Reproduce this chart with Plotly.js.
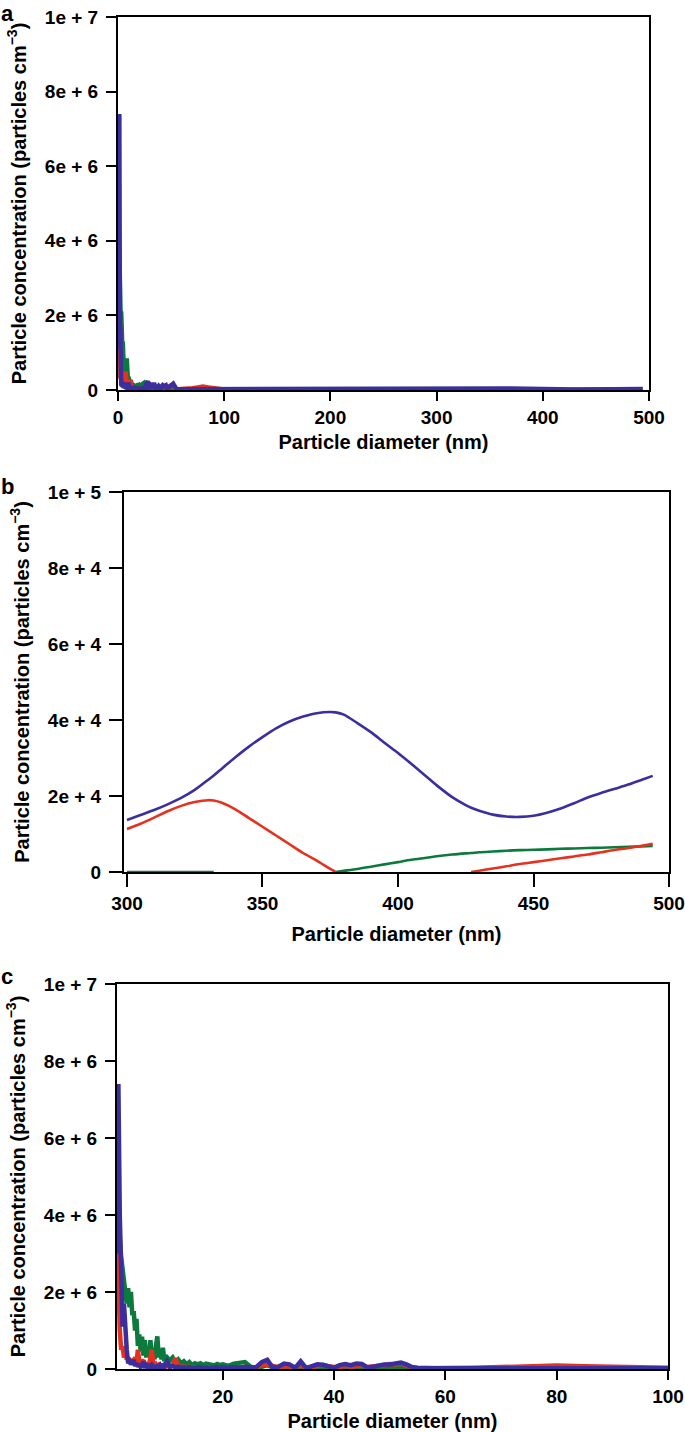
<!DOCTYPE html>
<html>
<head>
<meta charset="utf-8">
<script src="https://cdn.plot.ly/plotly-3.0.1.min.js"></script>
<style>html,body{margin:0;padding:0;background:#fff;}#chart{width:685px;height:1432px;}</style>
</head>
<body>
<div id="chart"></div>
<script>
// Particle diameter grid (nm)
const diameter = [
  1,1.25,1.5,1.75,2,2.25,2.5,2.75,3,3.25,3.5,3.75,4,4.25,4.5,4.75,5,5.25,5.5,5.75,6,6.25,6.5,6.75,7,7.25,7.5,7.75,8,8.25,8.5,8.75,9,9.25,9.5,9.75,10,
  10.5,11,11.5,12,12.5,13,13.5,14,14.5,15,15.5,16,16.5,17,17.5,18,18.5,19,19.5,20,
  21,22,23,24,25,26,27,28,29,30,31,32,33,34,35,36,37,38,39,40,41,42,43,44,45,46,47,48,49,50,51,52,53,54,55,56,57,58,59,60,
  65,70,75,80,85,90,95,100,110,120,130,140,150,160,170,180,190,200,210,220,230,240,250,260,270,280,290,300,
  305,310,315,320,325,330,332,335,340,345,350,355,360,365,370,375,377,380,385,390,395,400,405,410,415,420,425,427,430,435,440,445,450,455,460,465,470,475,480,485,490,494
];

// Green series (particles cm^-3)
const greenConc = [
  1.5e6,2.8e6,3.4e6,2.9e6,2.6e6,2.2e6,2.1e6,1.7e6,2.1e6,1.6e6,2.0e6,1.4e6,1.5e6,1.0e6,1.3e6,0.6e6,0.9e6,0.45e6,0.84e6,0.35e6,0.75e6,0.3e6,0.55e6,0.3e6,0.75e6,0.35e6,0.45e6,0.25e6,0.6e6,0.85e6,0.3e6,0.5e6,0.25e6,0.55e6,0.2e6,0.35e6,0.3e6,
  0.22e6,0.3e6,0.18e6,0.25e6,0.15e6,0.2e6,0.12e6,0.18e6,0.1e6,0.15e6,0.12e6,0.15e6,0.1e6,0.14e6,0.12e6,0.13e6,0.09e6,0.13e6,0.1e6,0.12e6,
  0.08e6,0.14e6,0.16e6,0.18e6,0.06e6,0.03e6,0.06e6,0.1e6,0.04e6,0.03e6,0.04e6,0.03e6,0.02e6,0.03e6,0.02e6,0.03e6,0.02e6,0.03e6,0.02e6,0.02e6,
  0.02e6,0.03e6,0.02e6,0.02e6,0.03e6,0.02e6,0.02e6,0.02e6,0.03e6,0.02e6,0.02e6,0.02e6,0.02e6,0.015e6,0.015e6,0.015e6,0.015e6,0.015e6,0.015e6,0.015e6,
  15000,15000,15000,12000,12000,12000,10000,10000,9000,8000,7000,6000,5000,4000,3500,3000,2500,2000,1500,1000,800,600,400,200,0,0,0,0,
  0,0,0,0,0,0,0,null,null,null,null,null,null,null,null,null,0,300,800,1400,2000,2600,3200,3700,4200,4600,4900,5000,5200,5400,5600,5750,5850,5950,6100,6200,6300,6400,6500,6600,6750,6850
];

// Red series (particles cm^-3)
const redConc = [
  3.8e6,1.6e6,1.0e6,0.5e6,0.6e6,0.3e6,0.4e6,0.25e6,0.3e6,0.2e6,0.25e6,0.15e6,0.2e6,0.3e6,0.15e6,0.5e6,0.2e6,0.15e6,0.25e6,0.1e6,0.15e6,0.08e6,0.12e6,0.1e6,0.3e6,0.5e6,0.15e6,0.08e6,0.12e6,0.06e6,0.1e6,0.05e6,0.08e6,0.05e6,0.1e6,0.06e6,0.08e6,
  0.05e6,0.1e6,0.28e6,0.08e6,0.05e6,0.07e6,0.04e6,0.06e6,0.03e6,0.05e6,0.03e6,0.04e6,0.02e6,0.04e6,0.03e6,0.04e6,0.02e6,0.03e6,0.02e6,0.03e6,
  0.03e6,0.04e6,0.03e6,0.05e6,0.03e6,0.04e6,0.1e6,0.12e6,0.08e6,0.05e6,0.07e6,0.06e6,0.05e6,0.08e6,0.04e6,0.05e6,0.08e6,0.1e6,0.07e6,0.05e6,
  0.06e6,0.08e6,0.06e6,0.07e6,0.09e6,0.05e6,0.06e6,0.09e6,0.1e6,0.13e6,0.12e6,0.14e6,0.08e6,0.04e6,0.02e6,0.02e6,0.02e6,0.02e6,0.02e6,0.025e6,
  30000,50000,70000,90000,70000,50000,20000,12000,10000,9000,8000,7000,6500,6000,5500,5000,5000,5000,5000,5500,6000,6500,7000,7500,8000,9000,10000,11300,
  12700,14300,16000,17400,18400,18900,18800,18200,16500,14200,11900,9600,7300,5000,3000,800,0,null,null,null,null,null,null,null,null,null,null,0,350,900,1500,2100,2600,3100,3600,4100,4600,5200,5800,6300,6900,7400
];

// Blue series (particles cm^-3)
const blueConc = [
  3.0e6,7.4e6,4.0e6,2.0e6,1.1e6,1.7e6,0.8e6,0.5e6,0.15e6,0.2e6,0.12e6,0.2e6,0.23e6,0.08e6,0.15e6,0.06e6,0.12e6,0.05e6,0.1e6,0.2e6,0.08e6,0.1e6,0.04e6,0.08e6,0.05e6,0.1e6,0.04e6,0.06e6,0.03e6,0.07e6,0.05e6,0.1e6,0.04e6,0.08e6,0.05e6,0.15e6,0.2e6,
  0.05e6,0.08e6,0.04e6,0.06e6,0.03e6,0.05e6,0.03e6,0.05e6,0.02e6,0.04e6,0.03e6,0.05e6,0.03e6,0.04e6,0.02e6,0.04e6,0.03e6,0.05e6,0.03e6,0.04e6,
  0.03e6,0.05e6,0.03e6,0.06e6,0.04e6,0.05e6,0.18e6,0.24e6,0.03e6,0.06e6,0.14e6,0.12e6,0.03e6,0.2e6,0.02e6,0.07e6,0.12e6,0.11e6,0.06e6,0.03e6,
  0.1e6,0.13e6,0.1e6,0.14e6,0.13e6,0.04e6,0.06e6,0.1e6,0.12e6,0.12e6,0.15e6,0.17e6,0.12e6,0.05e6,0.03e6,0.02e6,0.02e6,0.02e6,0.02e6,0.02e6,
  20000,20000,18000,15000,15000,14000,14000,13000,12000,12000,11500,11000,11000,11000,11000,11500,12000,12000,12000,12500,12500,12500,13000,13000,13000,13200,13500,13700,
  15000,16300,17800,19500,21600,24300,25400,27200,30200,33000,35500,37800,39600,40900,41800,42100,42000,41400,39200,36800,34000,31300,28400,25400,22400,19700,17600,16900,16100,15100,14600,14500,14800,15600,16700,18100,19600,20800,21900,23000,24300,25300
];

const seriesColors = ['#0c7a3c', '#e5321f', '#3b2e9e'];

// Tick labels
const diamTicksA = [0, 100, 200, 300, 400, 500];
const diamTicksB = [300, 350, 400, 450, 500];
const diamTicksC = [20, 40, 60, 80, 100];
const concTicks7 = [0, 2e6, 4e6, 6e6, 8e6, 1e7];
const concLabels7 = ['0', '2e + 6', '4e + 6', '6e + 6', '8e + 6', '1e + 7'];
const concTicks5 = [0, 2e4, 4e4, 6e4, 8e4, 1e5];
const concLabels5 = ['0', '2e + 4', '4e + 4', '6e + 4', '8e + 4', '1e + 5'];
const panelLabels = ['a', 'b', 'c'];

const series = [greenConc, redConc, blueConc];
const traces = [];
function addTraces(xa, ya, width, minX, shape) {
  series.forEach((ys, i) => {
    const xs = [], vs = [];
    diameter.forEach((d, k) => { if (d >= minX) { xs.push(d); vs.push(ys[k]); } });
    traces.push({type: 'scatter', mode: 'lines', x: xs, y: vs, xaxis: xa, yaxis: ya,
      line: {color: seriesColors[i], width: width, shape: shape, smoothing: 0.8},
      connectgaps: false, hoverinfo: 'skip'});
  });
}
addTraces('x', 'y', 4.5, 0, 'linear');
addTraces('x2', 'y2', 2.6, 300, 'spline');
addTraces('x3', 'y3', 4.5, 0, 'linear');

const FONT = 'Liberation Sans, Arial, Helvetica, sans-serif';
const tickFont = {family: FONT, size: 19, color: '#000', weight: 700};
const titleFont = {family: FONT, size: 20, color: '#000', weight: 700};

function xAxis(domain, range, ticks, anchor) {
  return {domain: domain, range: range, anchor: anchor, tickmode: 'array', tickvals: ticks,
    ticktext: ticks.map(String), ticks: 'outside', ticklen: 9, tickwidth: 2, tickcolor: '#000',
    showline: true, linewidth: 2, linecolor: '#000', mirror: true, showgrid: false, zeroline: false,
    layer: 'below traces', tickfont: tickFont, automargin: false,
    title: {text: 'Particle diameter (nm)', font: titleFont, standoff: 8}};
}
function yAxis(domain, range, ticks, labels, anchor) {
  return {domain: domain, range: range, anchor: anchor, tickmode: 'array', tickvals: ticks,
    ticktext: labels, ticks: 'outside', ticklen: 10, tickwidth: 2, tickcolor: '#000',
    showline: true, linewidth: 2, linecolor: '#000', mirror: true, showgrid: false, zeroline: false,
    layer: 'below traces', tickfont: tickFont, automargin: false, ticklabelstandoff: 4,
    title: {text: 'Particle concentration (particles cm<sup>−3</sup>)', font: titleFont, standoff: 13}};
}

const W = 685, H = 1432;
const px = (a, b) => [a / W, b / W];
const py = (top, bottom) => [1 - bottom / H, 1 - top / H];

const xaxis2 = xAxis(px(124, 669), [298.9, 500], diamTicksB, 'y2');
xaxis2.ticklen = 13;
xaxis2.title.standoff = 14;
const yaxis2 = yAxis(py(492, 872), [0, 1e5], concTicks5, concLabels5, 'x2');
yaxis2.ticklen = 13;

const layout = {
  width: W, height: H, margin: {l: 0, r: 0, t: 0, b: 0},
  paper_bgcolor: '#fff', plot_bgcolor: '#fff', showlegend: false,
  font: {family: FONT, size: 19, color: '#000'},
  xaxis: xAxis(px(118, 649), [0, 500], diamTicksA, 'y'),
  yaxis: yAxis(py(17, 390), [0, 1e7], concTicks7, concLabels7, 'x'),
  xaxis2: xaxis2,
  yaxis2: yaxis2,
  xaxis3: xAxis(px(117, 668), [1, 100], diamTicksC, 'y3'),
  yaxis3: yAxis(py(984, 1369), [0, 1e7], concTicks7, concLabels7, 'x3'),
  annotations: [
    {text: panelLabels[0], x: 0, y: 1, yanchor: 'top'},
    {text: panelLabels[1], x: 0, y: 1 - 486 / H, yanchor: 'middle'},
    {text: panelLabels[2], x: 0, y: 1 - 977 / H, yanchor: 'middle'}
  ].map(a => Object.assign(a, {xref: 'paper', yref: 'paper', xanchor: 'left',
    showarrow: false, borderpad: 0, font: {family: FONT, size: 22, color: '#000', weight: 700}}))
};

Plotly.newPlot('chart', traces, layout, {staticPlot: true, displayModeBar: false});
</script>
</body>
</html>
